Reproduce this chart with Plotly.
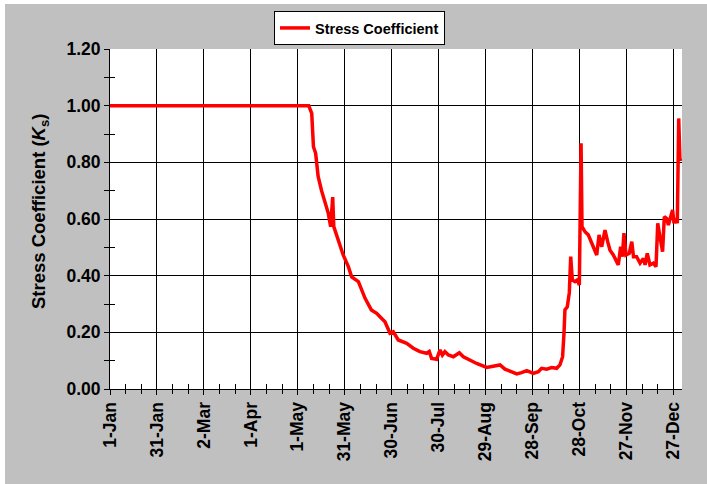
import plotly.graph_objects as go

# Day offset from 1-Jan and stress coefficient Ks
days = [0, 60, 120, 126, 127, 128.9, 130, 131.4, 133, 135.2, 137.4, 139.5, 141, 142.3, 143, 144.8,
        147, 149, 152.3, 154.4, 158.7, 163, 167, 170.4, 172.5, 175.7, 178.9, 181, 184.2, 189.6,
        193.8, 198, 202.4, 204, 205.5, 208.7, 210.9, 212.4, 214, 216.2, 219.4, 223.2, 225.8, 230,
        234.3, 240.7, 245, 249.2, 252.4, 256.7, 259.9, 263, 266.3, 270.5, 273.7, 275.8, 279, 282.2,
        285.4, 287.5, 289.2, 290.1, 290.7, 292.2, 293.5, 294.4, 295.4, 297.1, 298.6, 299.9, 301,
        301.6, 303.5, 305.6, 307.1, 308.8, 311, 312.5, 314.2, 316.3, 318, 319.5, 321.6, 324.8,
        326.3, 327.4, 328.4, 329.7, 331.8, 333.4, 334.5, 336.5, 338.7, 340.8, 341.9, 343.3, 345,
        347.2, 348.9, 350, 351.4, 353.1, 354.2, 355.7, 356.8, 358.2, 359.5, 360.4, 361.5, 362.5,
        363.4, 364.2, 365.3]
ks = [1.00, 1.00, 1.00, 1.00, 1.00, 0.973, 0.855, 0.832, 0.75, 0.70, 0.655, 0.62, 0.573, 0.677,
      0.573, 0.544, 0.514, 0.473, 0.432, 0.396, 0.379, 0.32, 0.279, 0.267, 0.255, 0.237, 0.197,
      0.202, 0.173, 0.161, 0.144, 0.132, 0.126, 0.132, 0.108, 0.105, 0.138, 0.12, 0.132, 0.12,
      0.114, 0.128, 0.114, 0.102, 0.09, 0.076, 0.079, 0.085, 0.07, 0.061, 0.053, 0.058, 0.065,
      0.055, 0.061, 0.073, 0.07, 0.076, 0.073, 0.085, 0.114, 0.197, 0.279, 0.29, 0.34, 0.467,
      0.385, 0.379, 0.385, 0.367, 0.867, 0.573, 0.555, 0.544, 0.52, 0.502, 0.473, 0.544, 0.502,
      0.561, 0.52, 0.49, 0.473, 0.438, 0.502, 0.467, 0.55, 0.473, 0.479, 0.52, 0.467, 0.467,
      0.444, 0.461, 0.438, 0.479, 0.438, 0.444, 0.432, 0.585, 0.538, 0.485, 0.608, 0.602, 0.579,
      0.602, 0.632, 0.585, 0.602, 0.585, 0.955, 0.808, 0.814]

tick_days = [0, 30, 60, 90, 120, 150, 180, 210, 240, 270, 300, 330, 360]
tick_labels = ["1-Jan", "31-Jan", "2-Mar", "1-Apr", "1-May", "31-May", "30-Jun", "30-Jul",
               "29-Aug", "28-Sep", "28-Oct", "27-Nov", "27-Dec"]
y_ticks = [0, 0.2, 0.4, 0.6, 0.8, 1.0, 1.2]
y_labels = ["0.00", "0.20", "0.40", "0.60", "0.80", "1.00", "1.20"]
y_title = "<b>Stress Coefficient (<i>K</i><sub>s</sub>)</b>"

W, H = 707, 484
L, R, T, B = 110, 25, 49, 95
pw, ph = W - L - R, H - T - B

font = "Liberation Sans, Arial, sans-serif"
tickfont = dict(size=17.5, family=font, color="black", weight="bold")

fig = go.Figure()
fig.add_trace(go.Scatter(x=days, y=ks, mode="lines", name="Stress Coefficient",
                         line=dict(color="#FF0000", width=3.5)))
# invisible trace bound to overlay axes (used only for inside tick marks)
fig.add_trace(go.Scatter(x=days, y=ks, mode="lines", xaxis="x2", yaxis="y2",
                         line=dict(color="rgba(0,0,0,0)", width=0), showlegend=False,
                         hoverinfo="skip"))

fig.update_layout(
    width=W, height=H,
    margin=dict(l=L, r=R, t=T, b=B, autoexpand=False),
    paper_bgcolor="#C0C0C0",
    plot_bgcolor="white",
    font=dict(family=font, color="black"),
    showlegend=True,
    legend=dict(xref="container", yref="container", x=274 / W, y=1 - 11 / H,
                xanchor="left", yanchor="top",
                bgcolor="white", bordercolor="black", borderwidth=1,
                font=dict(size=14.5, family=font, color="black", weight="bold"),
                itemwidth=30, tracegroupgap=0),
    xaxis=dict(range=[0, 365.5], tickvals=tick_days, ticktext=tick_labels, tickangle=-90,
               tickfont=tickfont, automargin=False,
               showgrid=True, gridcolor="black", gridwidth=1,
               showline=True, linecolor="black", linewidth=1,
               ticks="outside", ticklen=5, tickcolor="black",
               minor=dict(dtick=10, tick0=0, ticks="outside", ticklen=4, tickcolor="black",
                          showgrid=False),
               zeroline=False, fixedrange=True),
    yaxis=dict(range=[0, 1.2], tickvals=y_ticks, ticktext=y_labels,
               tickfont=tickfont, automargin=False,
               showgrid=True, gridcolor="black", gridwidth=1,
               showline=True, linecolor="black", linewidth=1,
               ticks="outside", ticklen=5, tickcolor="black",
               minor=dict(dtick=0.1, tick0=0, ticks="outside", ticklen=5, tickcolor="black",
                          showgrid=False),
               zeroline=False, fixedrange=True),
    xaxis2=dict(range=[0, 365.5], overlaying="x", showgrid=False, automargin=False,
                showticklabels=False, ticks="inside", ticklen=5, tickcolor="black",
                tickvals=tick_days,
                minor=dict(dtick=10, tick0=0, ticks="inside", ticklen=5, tickcolor="black"),
                zeroline=False, showline=False, fixedrange=True),
    yaxis2=dict(range=[0, 1.2], overlaying="y", showgrid=False, showticklabels=False,
                automargin=False,
                ticks="", minor=dict(dtick=0.1, tick0=0.1, ticks="inside", ticklen=5,
                                     tickcolor="black"),
                zeroline=False, showline=False, fixedrange=True),
)

fig.add_annotation(text=y_title, xref="paper", yref="paper",
                   x=(40 - L) / pw, y=(389 - 212) / ph, xanchor="center", yanchor="middle",
                   textangle=-90, showarrow=False,
                   font=dict(size=18.5, family=font, color="black", weight="bold"))

# white outer margin strips (left and top)
fig.add_shape(type="rect", xref="paper", yref="paper",
              x0=-L / pw, x1=(5 - L) / pw, y0=-B / ph, y1=1 + T / ph,
              fillcolor="white", line=dict(width=0), layer="above")
fig.add_shape(type="rect", xref="paper", yref="paper",
              x0=-L / pw, x1=1 + R / pw, y0=1 + (T - 4) / ph, y1=1 + T / ph,
              fillcolor="white", line=dict(width=0), layer="above")

fig.write_html("out.html", config={"displayModeBar": False},
               post_script="document.body.style.margin='0';document.body.style.padding='0';")
